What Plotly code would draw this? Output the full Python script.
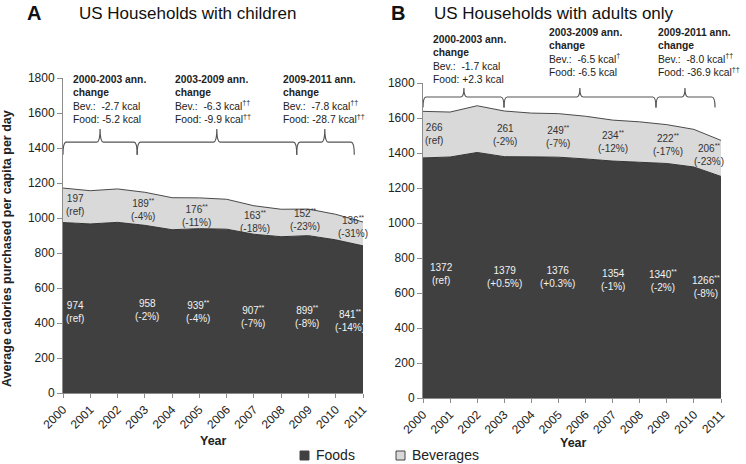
import plotly.graph_objects as go

# Average calories purchased per capita per day, by year
years = list(range(2000, 2012))
foods_children = [974, 966, 975, 958, 933, 939, 936, 907, 893, 899, 875, 841]
bev_children = [197, 190, 191, 189, 183, 176, 171, 163, 157, 152, 146, 136]
foods_adults = [1372, 1377, 1403, 1379, 1378, 1376, 1366, 1354, 1347, 1340, 1320, 1266]
bev_adults = [266, 257, 267, 261, 250, 249, 244, 234, 231, 222, 215, 206]

# labelled years and their percent-change / significance marks
label_years = [2000, 2003, 2005, 2007, 2009, 2011]
pct_foods_children = ["ref", "-2%", "-4%", "-7%", "-8%", "-14%"]
star_foods_children = ["", "", "**", "**", "**", "**"]
pct_bev_children = ["ref", "-4%", "-11%", "-18%", "-23%", "-31%"]
star_bev_children = ["", "**", "**", "**", "**", "**"]
pct_foods_adults = ["ref", "+0.5%", "+0.3%", "-1%", "-2%", "-8%"]
star_foods_adults = ["", "", "", "", "**", "**"]
pct_bev_adults = ["ref", "-2%", "-7%", "-12%", "-17%", "-23%"]
star_bev_adults = ["", "", "**", "**", "**", "**"]

# annual change text blocks
periods = ["2000-2003", "2003-2009", "2009-2011"]
bev_change_children = ["-2.7 kcal", "-6.3 kcal<sup>††</sup>", "-7.8 kcal<sup>††</sup>"]
food_change_children = ["-5.2 kcal", "-9.9 kcal<sup>††</sup>", "-28.7 kcal<sup>††</sup>"]
bev_change_adults = ["-1.7 kcal", "-6.5 kcal<sup>†</sup>", "-8.0 kcal<sup>††</sup>"]
food_change_adults = ["+2.3 kcal", "-6.5 kcal", "-36.9 kcal<sup>††</sup>"]

W, H = 746, 464
FONT = "Liberation Sans, Arial, sans-serif"
DARK = "#404040"
LIGHT = "#d9d9d9"
AXIS = "#8c8c8c"


def px(x):
    return x / W


def py(y):
    return 1 - y / H


fig = go.Figure()

panels = [
    ("x", "y", foods_children, bev_children, "a"),
    ("x2", "y2", foods_adults, bev_adults, "b"),
]
for xa, ya, foods, bev, grp in panels:
    fig.add_trace(go.Scatter(x=years, y=foods, xaxis=xa, yaxis=ya, stackgroup=grp,
                             mode="lines", line=dict(color="#333333", width=1),
                             fillcolor=DARK, name="Foods", showlegend=False,
                             hoverinfo="skip"))
    fig.add_trace(go.Scatter(x=years, y=bev, xaxis=xa, yaxis=ya, stackgroup=grp,
                             mode="lines", line=dict(color="#4a4a4a", width=1),
                             fillcolor=LIGHT, name="Beverages", showlegend=False,
                             hoverinfo="skip"))

axis_common = dict(showline=True, linecolor=AXIS, linewidth=1, ticks="outside",
                   tickcolor=AXIS, showgrid=False, zeroline=False, automargin=False,
                   tickfont=dict(family=FONT, size=12, color="#222"))
fig.update_layout(
    width=W, height=H,
    margin=dict(l=0, r=0, t=0, b=0, pad=0, autoexpand=False),
    showlegend=False,
    paper_bgcolor="white", plot_bgcolor="white",
    xaxis=dict(domain=[px(63), px(363)], range=[2000, 2011], dtick=1, tickangle=-45,
               ticklen=4, anchor="y", **axis_common),
    yaxis=dict(domain=[py(393), py(78)], range=[0, 1800], dtick=200, ticklen=5,
               anchor="x", **axis_common),
    xaxis2=dict(domain=[px(423), px(721)], range=[2000, 2011], dtick=1, tickangle=-45,
                ticklen=4, anchor="y2", **axis_common),
    yaxis2=dict(domain=[py(398), py(83)], range=[0, 1800], dtick=200, ticklen=5,
                anchor="x2", **axis_common),
)

ann = []

# data labels
label_pos = {
    ("x", "foods"): [(2000.02, 465, "left"), (2003.07, 474, "center"), (2004.96, 465, "center"),
                     (2006.98, 436, "center"), (2008.93, 436, "center"), (2010.52, 417, "center")],
    ("x", "bev"): [(2000.02, 1074, "left"), (2002.94, 1046, "center"), (2004.9, 1017, "center"),
                   (2007.04, 979, "center"), (2008.87, 989, "center"), (2010.63, 950, "center")],
    ("x2", "foods"): [(2000.2, 709, "left"), (2003.01, 693, "center"), (2004.98, 693, "center"),
                      (2007.0, 674, "center"), (2008.86, 674, "center"), (2010.45, 636, "center")],
    ("x2", "bev"): [(2000.0, 1510, "left"), (2003.03, 1503, "center"), (2004.99, 1493, "center"),
                    (2007.02, 1465, "center"), (2009.05, 1446, "center"), (2010.55, 1389, "center")],
}
label_sets = [
    ("x", "y", "foods", foods_children, pct_foods_children, star_foods_children, "#f2f2f2"),
    ("x", "y", "bev", bev_children, pct_bev_children, star_bev_children, "#333"),
    ("x2", "y2", "foods", foods_adults, pct_foods_adults, star_foods_adults, "#f2f2f2"),
    ("x2", "y2", "bev", bev_adults, pct_bev_adults, star_bev_adults, "#333"),
]
for xa, ya, kind, vals, pcts, stars, col in label_sets:
    for i, yr in enumerate(label_years):
        v = vals[years.index(yr)]
        sup = f"<sup>{stars[i]}</sup>" if stars[i] else ""
        x, y, anc = label_pos[(xa, kind)][i]
        ann.append(dict(x=x, y=y, xref=xa, yref=ya, text=f"{v}{sup}<br>({pcts[i]})",
                        showarrow=False, xanchor=anc, yanchor="middle", align="center",
                        font=dict(family=FONT, size=10, color=col)))

# annual change text blocks (pixel positions of the top-left corner)
blocks = [
    (bev_change_children, food_change_children, [(72, 73), (174, 73), (282, 73)]),
    (bev_change_adults, food_change_adults, [(432, 33), (548, 26), (657, 26)]),
]
for bevc, foodc, pos in blocks:
    for i, per in enumerate(periods):
        txt = (f"<b>{per} ann.</b><br><b>change</b><br>Bev.:  {bevc[i]}<br>Food: {foodc[i]}")
        ann.append(dict(x=px(pos[i][0]), y=py(pos[i][1]), xref="paper", yref="paper",
                        text=txt, showarrow=False, xanchor="left", yanchor="top",
                        align="left", borderpad=0,
                        font=dict(family=FONT, size=10.3, color="#222")))

# curly braces over the periods
shapes = []
braces = [
    ("x", "y", 1434, 1362, 1508, [(2000, 2001.36, 2002.72), (2002.72, 2005.64, 2008.57),
                                  (2008.57, 2009.6, 2010.68)]),
    ("x2", "y2", 1720, 1660, 1772, [(2000, 2001.51, 2002.99), (2002.99, 2005.79, 2008.6),
                                    (2008.6, 2009.67, 2010.78)]),
]
for xa, ya, y0, ylo, yhi, spans in braces:
    for a, p, b in spans:
        d = 0.12
        path = (f"M {a},{ylo} Q {a},{y0} {a + d},{y0} L {p - d},{y0} "
                f"Q {p},{y0} {p},{yhi} Q {p},{y0} {p + d},{y0} L {b - d},{y0} "
                f"Q {b},{y0} {b},{ylo}")
        shapes.append(dict(type="path", path=path, xref=xa, yref=ya,
                           line=dict(color="#555", width=1.2)))

# panel titles
titles = [(25, "<b>A</b>", 20), (77, "US Households with children", 17),
          (389, "<b>B</b>", 20), (432, "US Households with adults only", 17)]
for tx, txt, size in titles:
    ann.append(dict(x=px(tx), y=py(13), xref="paper", yref="paper", text=txt,
                    showarrow=False, xanchor="left", yanchor="middle",
                    font=dict(family=FONT, size=size, color="#111")))

# axis titles
ann.append(dict(x=px(7), y=py(249), xref="paper", yref="paper",
                text="<b>Average calories purchased per capita per day</b>", textangle=-90,
                showarrow=False, xanchor="center", yanchor="middle",
                font=dict(family=FONT, size=12.5, color="#222")))
for cx, cy in [(213, 441), (573, 443)]:
    ann.append(dict(x=px(cx), y=py(cy), xref="paper", yref="paper", text="<b>Year</b>",
                    showarrow=False, xanchor="center", yanchor="middle",
                    font=dict(family=FONT, size=12.5, color="#222")))

# legend
for x0, fill, name in [(300, DARK, "Foods"), (396, LIGHT, "Beverages")]:
    shapes.append(dict(type="rect", xref="paper", yref="paper",
                       x0=px(x0), x1=px(x0 + 9), y0=py(460), y1=py(451),
                       fillcolor=fill, line=dict(color="#444", width=1)))
    ann.append(dict(x=px(x0 + 14), y=py(455), xref="paper", yref="paper", text=name,
                    showarrow=False, xanchor="left", yanchor="middle",
                    font=dict(family=FONT, size=14, color="#222")))

fig.update_layout(annotations=ann, shapes=shapes)
# the page has a default 8px body margin; drop it so the figure fills the window
fig.write_html("out.html", config={"displayModeBar": False},
               post_script="document.body.style.margin = '0';")
